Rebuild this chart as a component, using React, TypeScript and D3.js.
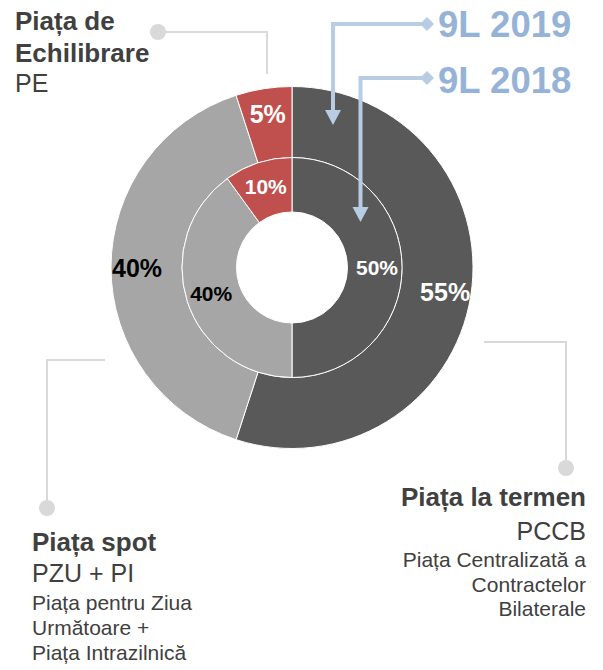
import React from "react";
import * as d3 from "d3";

const categories = ["Piața la termen", "Piața spot", "Piața de Echilibrare"];
const values2019 = [55, 40, 5];
const values2018 = [50, 40, 10];
const colors = ["#595959", "#a6a6a6", "#c0504d"];
const labelColors = ["#ffffff", "#000000", "#ffffff"];
const seriesLabels = ["9L 2019", "9L 2018"];

const W = 603;
const H = 670;
const cx = 292;
const cy = 267.5;
const FONT = "'Liberation Sans', Arial, sans-serif";
const TEXT = "#404040";
const LEADER = "#d9d9d9";
const ARROW = "#b8cce4";
const ARROW_TEXT = "#95b3d7";

export default function App() {
  const pie = d3.pie<number>().sort(null).value((d) => d);
  const outerArcs = pie(values2019);
  const innerArcs = pie(values2018);
  const outerArc = d3.arc<d3.PieArcDatum<number>>().innerRadius(110).outerRadius(181);
  const innerArc = d3.arc<d3.PieArcDatum<number>>().innerRadius(55.5).outerRadius(110);
  const outerLabel = d3.arc<d3.PieArcDatum<number>>().innerRadius(155).outerRadius(155);
  const innerLabel = d3.arc<d3.PieArcDatum<number>>().innerRadius(85).outerRadius(85);

  const arrow = (x: number, y: number, tipY: number, dx: number) => (
    <g>
      <path d={`M${dx},${y} H${x} V${tipY - 14}`} fill="none" stroke={ARROW} strokeWidth={4} />
      <polygon points={`${x},${tipY} ${x - 8},${tipY - 15} ${x + 8},${tipY - 15}`} fill={ARROW} />
      <polygon points={`${dx - 7},${y} ${dx},${y - 7} ${dx + 7},${y} ${dx},${y + 7}`} fill={ARROW} />
    </g>
  );

  return (
    <svg width={W} height={H} style={{ position: "absolute", left: 0, top: 0 }} fontFamily={FONT}>
      <g transform={`translate(${cx},${cy})`}>
        {outerArcs.map((a, i) => (
          <path key={"o" + i} d={outerArc(a) || ""} fill={colors[i]} stroke="#fff" strokeWidth={1} />
        ))}
        {innerArcs.map((a, i) => (
          <path key={"i" + i} d={innerArc(a) || ""} fill={colors[i]} stroke="#fff" strokeWidth={1} />
        ))}
        {outerArcs.map((a, i) => {
          const [x, y] = outerLabel.centroid(a);
          return (
            <text key={"ol" + i} x={x} y={y} textAnchor="middle" dominantBaseline="central"
              fontSize={25} fontWeight="bold" fill={labelColors[i]}>
              {values2019[i]}%
            </text>
          );
        })}
        {innerArcs.map((a, i) => {
          const [x, y] = innerLabel.centroid(a);
          return (
            <text key={"il" + i} x={x} y={y} textAnchor="middle" dominantBaseline="central"
              fontSize={21} fontWeight="bold" fill={labelColors[i]}>
              {values2018[i]}%
            </text>
          );
        })}
      </g>

      {/* arrows */}
      {arrow(333, 24, 125, 427)}
      {arrow(360.5, 78, 222, 427)}
      <text x={438} y={37} fontSize={36.5} fontWeight="bold" fill={ARROW_TEXT}>{seriesLabels[0]}</text>
      <text x={438} y={93} fontSize={36.5} fontWeight="bold" fill={ARROW_TEXT}>{seriesLabels[1]}</text>

      {/* leader lines */}
      <path d="M158,32 H267 V74" fill="none" stroke={LEADER} strokeWidth={2} />
      <circle cx={158} cy={32} r={8} fill={LEADER} />
      <path d="M105,360 H47 V500" fill="none" stroke={LEADER} strokeWidth={2} />
      <circle cx={47} cy={508} r={8} fill={LEADER} />
      <path d="M484,342 H566 V460" fill="none" stroke={LEADER} strokeWidth={2} />
      <circle cx={566} cy={468} r={8} fill={LEADER} />

      {/* category labels */}
      <g fill={TEXT}>
        <text x={15} y={30} fontSize={26} fontWeight="bold">Piața de</text>
        <text x={15} y={62} fontSize={26} fontWeight="bold">Echilibrare</text>
        <text x={15} y={92} fontSize={25}>PE</text>

        <text x={32} y={551} fontSize={26} fontWeight="bold">{categories[1]}</text>
        <text x={32} y={582} fontSize={25}>PZU + PI</text>
        <text x={32} y={610} fontSize={21}>Piața pentru Ziua</text>
        <text x={32} y={635} fontSize={21}>Următoare +</text>
        <text x={32} y={660} fontSize={21}>Piața Intrazilnică</text>

        <text x={586} y={506} fontSize={26} fontWeight="bold" textAnchor="end">{categories[0]}</text>
        <text x={586} y={540} fontSize={25} textAnchor="end">PCCB</text>
        <text x={586} y={567} fontSize={21} textAnchor="end">Piața Centralizată a</text>
        <text x={586} y={592} fontSize={21} textAnchor="end">Contractelor</text>
        <text x={586} y={616} fontSize={21} textAnchor="end">Bilaterale</text>
      </g>
    </svg>
  );
}
